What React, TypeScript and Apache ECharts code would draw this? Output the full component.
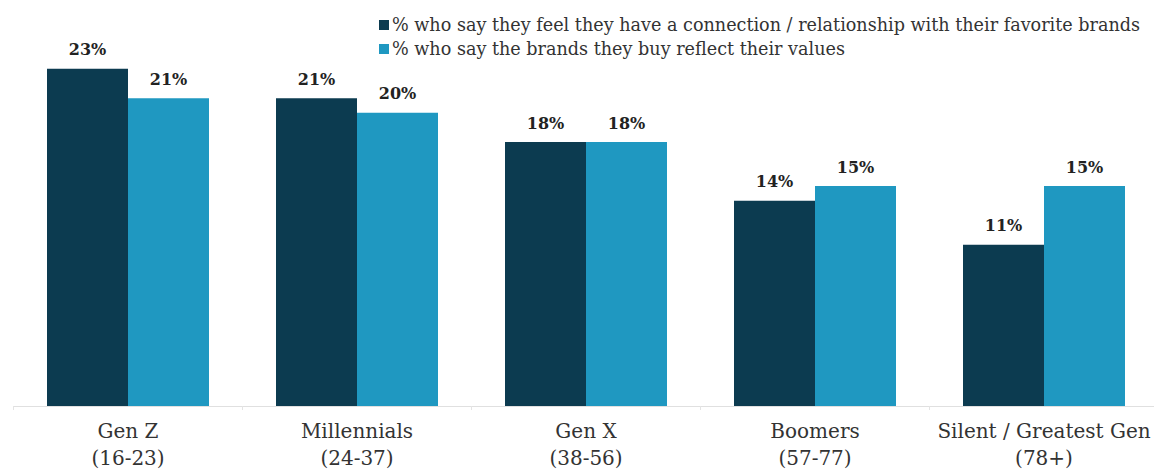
import React, { useEffect, useRef } from "react";
import * as echarts from "echarts";

const categories = ["Gen Z", "Millennials", "Gen X", "Boomers", "Silent / Greatest Gen"];
const ageRanges = ["(16-23)", "(24-37)", "(38-56)", "(57-77)", "(78+)"];
const connectionValues = [23, 21, 18, 14, 11];
const valuesValues = [21, 20, 18, 15, 15];
const seriesNames = [
  "% who say they feel they have a connection / relationship with their favorite brands",
  "% who say the brands they buy reflect their values",
];
const colors = ["#0c3b50", "#1f98c1"];

export default function App() {
  const ref = useRef<HTMLDivElement>(null);
  useEffect(() => {
    if (!ref.current) return;
    const chart = echarts.init(ref.current, undefined, { renderer: "svg" });
    const font = "'DejaVu Serif', 'Liberation Serif', serif";
    const labelCfg = {
      show: true,
      position: "top",
      distance: 11,
      formatter: "{c}%",
      fontFamily: font,
      fontWeight: "bold",
      fontSize: 16,
      color: "#222",
    };
    chart.setOption({
      animation: false,
      backgroundColor: "#ffffff",
      legend: {
        orient: "vertical",
        left: 374,
        top: 11,
        itemWidth: 10,
        itemHeight: 10,
        itemGap: 6,
        icon: "rect",
        textStyle: { fontFamily: font, fontSize: 17.6, color: "#333", padding: [0, 0, 0, -2] },
        data: seriesNames,
      },
      grid: { left: 13.5, top: 39.5, width: 1145, height: 367.5 },
      xAxis: {
        type: "category",
        data: categories,
        axisLine: { show: true, lineStyle: { color: "#e0e0e0", width: 1 } },
        axisTick: { show: true, length: 4, lineStyle: { color: "#e4e4e4" } },
        axisLabel: {
          margin: 11,
          fontFamily: font,
          fontSize: 20,
          color: "#333",
          lineHeight: 27,
          interval: 0,
          formatter: (v: string) => {
            const i = categories.indexOf(v);
            return v + "\n" + ageRanges[i];
          },
        },
      },
      yAxis: { type: "value", min: 0, max: 25, show: false, splitLine: { show: false } },
      series: [
        {
          name: seriesNames[0],
          type: "bar",
          data: connectionValues,
          barWidth: 81,
          barGap: "0%",
          itemStyle: { color: colors[0] },
          label: labelCfg,
        },
        {
          name: seriesNames[1],
          type: "bar",
          data: valuesValues,
          barWidth: 81,
          barGap: "0%",
          itemStyle: { color: colors[1] },
          label: labelCfg,
        },
      ],
    });
    return () => chart.dispose();
  }, []);
  return (
    <div style={{ position: "fixed", left: 0, top: 0, width: 1154, height: 471, overflow: "hidden" }}>
      <div ref={ref} style={{ width: 1160, height: 471 }} />
    </div>
  );
}
